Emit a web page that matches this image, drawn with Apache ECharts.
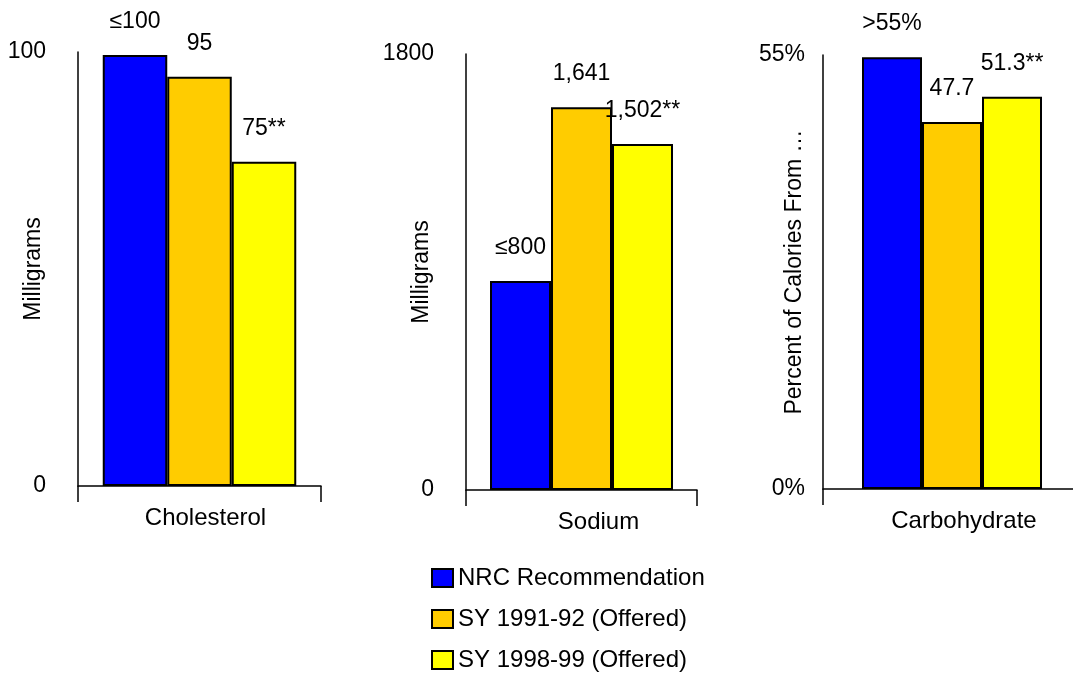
<!DOCTYPE html>
<html>
<head>
<meta charset="utf-8">
<script src="https://cdn.jsdelivr.net/npm/echarts@6/dist/echarts.min.js"></script>
<style>html,body{margin:0;padding:0;background:#fff}#c{width:1073px;height:675px}</style>
</head>
<body>
<div id="c"></div>
<script>
// ---- data ----
const categories = ['Cholesterol', 'Sodium', 'Carbohydrate'];
const seriesNames = ['NRC Recommendation', 'SY 1991-92 (Offered)', 'SY 1998-99 (Offered)'];
const nrcValues = [99.3, 863, 54.7];
const sy9192Values = [94.3, 1580, 46.5];
const sy9899Values = [74.7, 1428, 49.7];
const nrcLabels = ['≤100', '≤800', '>55%'];
const sy9192Labels = ['95', '1,641', '47.7'];
const sy9899Labels = ['75**', '1,502**', '51.3**'];
const axisMax = [100, 1800, 55];
const axisSuffix = ['', '', '%'];
const yAxisNames = ['Milligrams', 'Milligrams', 'Percent of Calories From …'];

// ---- layout / style ----
const FONT = '"Liberation Sans", Arial, sans-serif';
const FS = 24;
const colors = ['#0000FF', '#FFCC00', '#FFFF00'];
const grids = [
  { left: 78, top: 52, width: 243, height: 434 },
  { left: 466, top: 54, width: 231, height: 436 },
  { left: 823, top: 55, width: 258, height: 434 }
];
const barWidths = [64.5, 61, 60];
const yLabelMargin = [32, 32, 18];
const yNameGap = [33, 33, 17];
const xLabelShift = [12, 34, 24];

const valueSets = [nrcValues, sy9192Values, sy9899Values];
const labelSets = [nrcLabels, sy9192Labels, sy9899Labels];

const xAxes = [], yAxes = [], series = [];
categories.forEach((cat, i) => {
  xAxes.push({
    type: 'category', gridIndex: i, data: [cat],
    axisLine: { lineStyle: { color: '#000', width: 1.5 } },
    axisTick: { show: true, length: 16, lineStyle: { color: '#000', width: 1.5 } },
    axisLabel: { color: '#000', fontFamily: FONT, fontSize: FS, margin: 20, padding: [0, 0, 0, xLabelShift[i]] }
  });
  yAxes.push({
    type: 'value', gridIndex: i, min: 0, max: axisMax[i], interval: axisMax[i],
    name: yAxisNames[i], nameLocation: 'middle', nameRotate: 90, nameGap: yNameGap[i],
    nameMoveOverlap: false,
    nameTextStyle: { color: '#000', fontFamily: FONT, fontSize: 23 },
    axisLine: { show: true, lineStyle: { color: '#000', width: 1.5 } },
    axisTick: { show: false },
    splitLine: { show: false },
    axisLabel: { color: '#000', fontFamily: FONT, fontSize: 23, margin: yLabelMargin[i],
      formatter: v => v + axisSuffix[i] }
  });
  seriesNames.forEach((name, s) => {
    series.push({
      type: 'bar', name: name, xAxisIndex: i, yAxisIndex: i,
      data: [valueSets[s][i]],
      barWidth: barWidths[i], barGap: '0%',
      itemStyle: { color: colors[s], borderColor: '#000', borderWidth: 2 },
      label: { show: true, position: 'top', distance: 22, color: '#000', fontFamily: FONT, fontSize: 23,
        formatter: () => labelSets[s][i] },
      emphasis: { disabled: true },
      animation: false
    });
  });
});

const chart = echarts.init(document.getElementById('c'), null, { renderer: 'canvas' });
chart.setOption({
  animation: false,
  backgroundColor: '#fff',
  grid: grids.map(g => Object.assign({ containLabel: false, outerBoundsMode: 'none' }, g)),
  xAxis: xAxes,
  yAxis: yAxes,
  legend: {
    orient: 'vertical', left: 431, top: 566, height: 130, padding: 0,
    data: seriesNames,
    icon: 'rect', itemWidth: 21, itemHeight: 18, itemGap: 17,
    textStyle: { color: '#000', fontFamily: FONT, fontSize: FS, padding: [0, 0, 0, 0] },
    selectedMode: false
  },
  series: series
});
</script>
</body>
</html>
